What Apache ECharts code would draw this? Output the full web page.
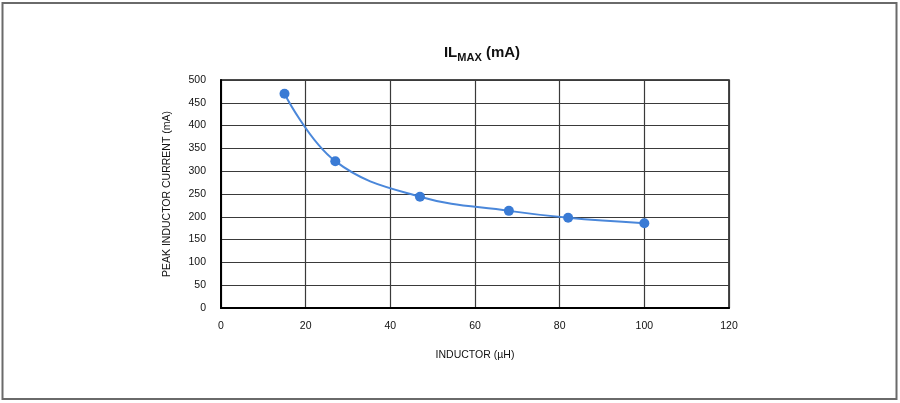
<!DOCTYPE html>
<html>
<head>
<meta charset="utf-8">
<script src="https://cdn.jsdelivr.net/npm/echarts@6/dist/echarts.min.js"></script>
<style>
  html, body { margin: 0; padding: 0; background: #fff; }
  #chart { width: 900px; height: 403px; }
</style>
</head>
<body>
<div id="chart"></div>
<script>
// inductor values (uH) and peak current (mA)
var inductance = [15, 27, 47, 68, 82, 100];
var peakCurrent = [470, 322, 244, 213, 198, 186];

var xTicks = { min: 0, max: 120, interval: 20 };
var yTicks = { min: 0, max: 500, interval: 50 };

var font = 'Liberation Sans, Arial, sans-serif';

var myChart = echarts.init(document.getElementById('chart'));

var points = inductance.map(function (x, i) { return [x, peakCurrent[i]]; });

var option = {
    animation: false,
    backgroundColor: '#fff',
    title: {
        text: '{a|IL}{b|MAX}{a| (mA)}',
        left: 477,
        textAlign: 'center',
        top: 40,
        textStyle: {
            rich: {
                a: { fontFamily: font, fontSize: 15, fontWeight: 'bold', color: '#111', verticalAlign: 'bottom' },
                b: { fontFamily: font, fontSize: 11, fontWeight: 'bold', color: '#111', verticalAlign: 'bottom', padding: [0, 0, -3, 0] }
            }
        }
    },
    graphic: [{
        type: 'rect',
        shape: { x: 2.5, y: 3, width: 894, height: 396 },
        style: { fill: 'none', stroke: '#6a6a6a', lineWidth: 2 },
        silent: true
    }],
    grid: {
        left: 221,
        right: 171,
        top: 80,
        bottom: 95,
        show: true,
        borderColor: '#111',
        borderWidth: 1.5
    },
    xAxis: {
        type: 'value',
        min: xTicks.min,
        max: xTicks.max,
        interval: xTicks.interval,
        name: 'INDUCTOR (µH)',
        nameLocation: 'middle',
        nameGap: 42,
        nameTextStyle: { fontFamily: font, fontSize: 10.5, color: '#111' },
        axisLine: { lineStyle: { color: '#000', width: 2 } },
        axisTick: { show: false },
        axisLabel: { fontFamily: font, fontSize: 10.5, color: '#111', margin: 13 },
        splitLine: { lineStyle: { color: '#3a3a3a', width: 1.2 } }
    },
    yAxis: {
        type: 'value',
        min: yTicks.min,
        max: yTicks.max,
        interval: yTicks.interval,
        name: 'PEAK INDUCTOR CURRENT (mA)',
        nameLocation: 'middle',
        nameGap: 48,
        nameTextStyle: { fontFamily: font, fontSize: 10.5, color: '#111' },
        axisLine: { show: true, lineStyle: { color: '#000', width: 2 } },
        axisTick: { show: false },
        axisLabel: { fontFamily: font, fontSize: 10.5, color: '#111', margin: 15 },
        splitLine: { lineStyle: { color: '#3a3a3a', width: 1.2 } }
    },
    series: [{
        type: 'line',
        data: points,
        smooth: 0.4,
        symbol: 'circle',
        symbolSize: 10,
        itemStyle: { color: '#3A7BD5' },
        lineStyle: { color: '#4A87DA', width: 2 }
    }]
};

myChart.setOption(option);
</script>
</body>
</html>
